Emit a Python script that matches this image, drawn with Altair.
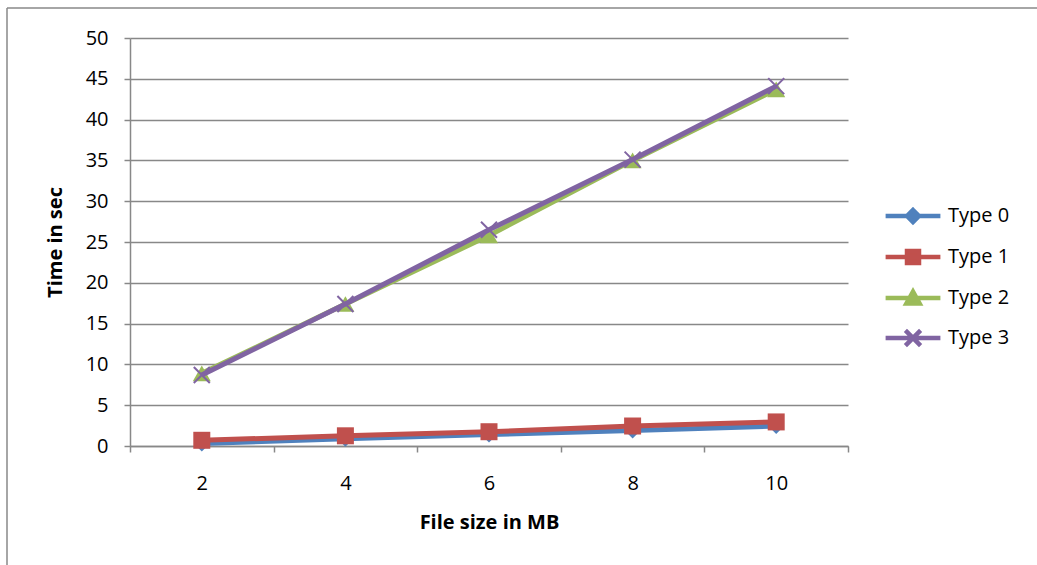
import altair as alt
import pandas as pd

# ---- data ----
sizes = [2, 4, 6, 8, 10]
series = ["Type 0", "Type 1", "Type 2", "Type 3"]
type0 = [0.3, 0.9, 1.4, 1.9, 2.45]
type1 = [0.7, 1.25, 1.75, 2.45, 2.95]
type2 = [8.9, 17.4, 25.8, 35.0, 43.7]
type3 = [8.7, 17.4, 26.5, 35.1, 44.1]
colors = ["#4F81BD", "#C0504D", "#9BBB59", "#8064A2"]
y_ticks = list(range(0, 51, 5))
x_ticks = list(range(1, 12))

rows = []
for name, vals in zip(series, [type0, type1, type2, type3]):
    for s, v in zip(sizes, vals):
        rows.append({"series": name, "size": s, "time": v})
df = pd.DataFrame(rows)

FONT = "Open Sans"
GRID = "#888888"
FS = 20

x_enc = alt.X(
    "size:Q",
    scale=alt.Scale(domain=[1, 11], nice=False, zero=False),
    axis=alt.Axis(
        values=x_ticks,
        labelExpr="datum.value % 2 === 0 ? datum.label : ''",
        tickOpacity={"condition": {"test": "datum.value % 2 === 1", "value": 1}, "value": 0},
        title="File size in MB",
        grid=False,
        tickSize=6,
        labelPadding=21,
        titlePadding=19,
        labelFlush=False,
        labelOverlap=False,
    ),
)
y_enc = alt.Y(
    "time:Q",
    scale=alt.Scale(domain=[0, 50], nice=False),
    axis=alt.Axis(
        values=y_ticks,
        title="Time in sec",
        grid=True,
        tickSize=6,
        labelPadding=16,
        titlePadding=20,
        labelOverlap=False,
    ),
)

marker_shapes = ["diamond", "square", "triangle-up", "M-1,-1L1,1M-1,1L1,-1"]
marker_sizes = [256, 289, 324, 256]
marker_filled = [True, True, True, False]

layers = []
for i, name in enumerate(series):
    base = alt.Chart(df).transform_filter(alt.datum.series == name)
    line = base.mark_line(color=colors[i], strokeWidth=5).encode(x=x_enc, y=y_enc)
    if marker_filled[i]:
        pts = base.mark_point(
            shape=marker_shapes[i], size=marker_sizes[i], filled=True,
            color=colors[i], opacity=1,
        ).encode(x=x_enc, y=y_enc)
    else:
        pts = base.mark_point(
            shape=marker_shapes[i], size=marker_sizes[i], filled=False,
            color=colors[i], strokeWidth=2, opacity=1,
        ).encode(x=x_enc, y=y_enc)
    layers += [line, pts]

# legend symbols: line with marker in the middle (unit = 20px)
leg_paths = [
    "M-1.37,0H1.37M0,-0.3L0.3,0L0,0.3L-0.3,0Z",
    "M-1.37,0H1.37M-0.3,-0.3H0.3V0.3H-0.3Z",
    "M-1.37,0H1.37M0,-0.32L0.33,0.27L-0.33,0.27Z",
    "M-1.37,0H1.37M-0.38,-0.38L0.38,0.38M-0.38,0.38L0.38,-0.38",
]
legend_layer = alt.Chart(pd.DataFrame({"series": series})).mark_point(
    filled=True, strokeWidth=4.5, clip=True, opacity=1
).encode(
    x=alt.value(-3000),
    y=alt.value(-3000),
    color=alt.Color("series:N", scale=alt.Scale(domain=series, range=colors), legend=alt.Legend(title=None)),
    stroke=alt.Stroke("series:N", scale=alt.Scale(domain=series, range=colors), legend=alt.Legend(title=None)),
    shape=alt.Shape("series:N", scale=alt.Scale(domain=series, range=leg_paths), legend=alt.Legend(title=None)),
)

one = pd.DataFrame({"k": [0]})
border_left = alt.Chart(one).mark_rule(color=GRID, strokeWidth=1.5).encode(
    x=alt.value(-123), y=alt.value(-30), y2=alt.value(600)
)
border_top = alt.Chart(one).mark_rule(color=GRID, strokeWidth=1.5).encode(
    x=alt.value(-123), x2=alt.value(950), y=alt.value(-30)
)

chart = alt.layer(*layers, legend_layer, border_left, border_top).properties(
    width=718,
    height=408,
    autosize=alt.AutoSizeParams(type="none"),
    padding={"left": 130, "top": 38, "right": 189, "bottom": 119},
    background="white",
).configure_view(stroke=None).configure_axis(
    domainColor=GRID, domainWidth=1.5,
    gridColor=GRID, gridWidth=1.5,
    tickColor=GRID, tickWidth=1.5,
    labelFont=FONT, labelFontSize=FS, labelColor="black",
    titleFont=FONT, titleFontSize=FS, titleFontWeight="bold", titleColor="black",
).configure_legend(
    orient="none", legendX=760.5, legendY=155.5, padding=0,
    symbolSize=1600, symbolStrokeWidth=4.5, labelOffset=12.5,
    labelFont=FONT, labelFontSize=FS, labelColor="black", rowPadding=3,
)

chart.save("out.html", embed_options={"renderer": "svg", "actions": False})
